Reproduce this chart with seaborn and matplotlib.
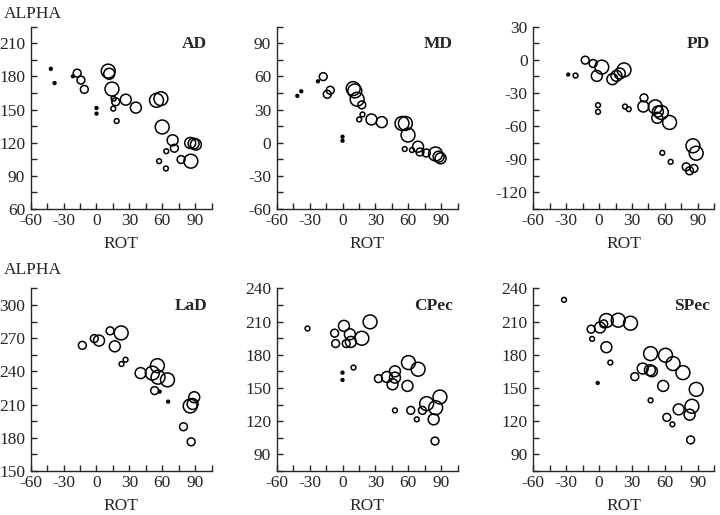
import pandas as pd
import matplotlib
matplotlib.use("Agg")
import matplotlib.pyplot as plt
import seaborn as sns
from matplotlib.ticker import MultipleLocator

# ROT / ALPHA per cell, size class 1 (dot) .. 5 (large circle)
AD_ROT = [-41.6, -38.2, -21.5, -17.6, -14.2, -11.1, 0, 0, 10.7, 11.6, 14.1, 15.6, 17.5, 15.3, 18.4,
          26.7, 35.9, 54.7, 58.7, 59.9, 69.4, 71, 63.6, 57.1, 63.3, 77.1, 86, 85.4, 88.5, 90.6]
AD_ALPHA = [186.8, 173.9, 180, 182.9, 176.6, 168.2, 151.4, 146.3, 184.7, 182.3, 168.5, 159.8, 157, 150.8, 139.6,
            158.9, 151.7, 158.3, 159.8, 134.2, 122.2, 115, 112.3, 103.3, 96.7, 104.8, 103.3, 119.8, 119.2, 118.3]
AD_SIZE = [1, 1, 1, 3, 3, 3, 1, 1, 5, 4, 5, 2, 3, 2, 2, 4, 4, 5, 5, 5, 4, 3, 2, 2, 2, 3, 5, 4, 4, 4]

MD_ROT = [-41.2, -37.6, -22.4, -17.6, -11.2, -13.9, 0, 0, 9.7, 11.2, 13.3, 17.6, 15.2, 18.2, 26.4,
          35.8, 54.2, 57.3, 59.7, 56.7, 63.3, 68.8, 70.6, 76.4, 84.8, 87.6, 89.4]
MD_ALPHA = [42.3, 46.5, 55.5, 59.7, 47.4, 43.8, 5.4, 1.8, 48.9, 46.8, 39.3, 34.2, 21, 25.5, 21,
            18.6, 17.4, 17.4, 6.9, -5.7, -6.6, -3.6, -8.4, -9.3, -10.2, -12.6, -14.1]
MD_SIZE = [1, 1, 1, 3, 3, 3, 1, 1, 5, 5, 5, 3, 2, 2, 4, 4, 5, 5, 5, 2, 2, 4, 3, 3, 5, 4, 4]

PD_ROT = [-28.2, -21.5, -12.7, -5.5, -2.1, 2.4, -1, -1, 12.1, 15.8, 18.8, 22.7, 23.6, 27, 40.9,
          40.3, 51.2, 53.6, 56.7, 53, 64.2, 57.6, 65.2, 85.5, 88.5, 79.4, 82.4, 86.4]
PD_ALPHA = [-13.4, -14.3, -0.4, -3.4, -14.6, -6.7, -41.1, -47.1, -17.6, -14.6, -12.5, -9.2, -42.3, -44.7, -34.5,
            -42.3, -42.6, -46.8, -47.7, -52.5, -56.7, -84.2, -92.3, -77.8, -84.5, -96.8, -100.4, -98.3]
PD_SIZE = [1, 2, 3, 3, 4, 5, 2, 2, 4, 4, 4, 5, 2, 2, 3, 4, 5, 4, 5, 4, 5, 2, 2, 5, 5, 3, 3, 3]

LAD_ROT = [-12.9, -2, 2.3, 12.4, 22.5, 16.7, 22.8, 26.5, 40.2, 50.9, 55.5, 56.1, 64.7, 53, 57.6,
           65.3, 89.1, 85.4, 87.6, 79.3, 86.3]
LAD_ALPHA = [263.6, 269.7, 267.9, 276.7, 274.8, 262.7, 246.7, 250.6, 238.5, 238.5, 245.2, 234.8, 232.4, 222.7, 221.8,
             212.7, 216.7, 208.8, 210.6, 190, 176.4]
LAD_SIZE = [3, 3, 4, 3, 5, 4, 2, 2, 4, 5, 5, 5, 5, 3, 1, 1, 4, 5, 4, 3, 3]

CPEC_ROT = [-31.9, -7.2, -6.3, 1.3, 6.7, 3.4, 7.6, 17.6, 25.1, 0, 0, 10, 32.7, 40.5, 47.8,
            47.8, 45.6, 47.8, 59.2, 60.1, 68.9, 62.2, 67.7, 72.8, 76.7, 84.9, 88.8, 83.1, 84.3]
CPEC_ALPHA = [203.8, 199.6, 190.2, 206.2, 198.6, 190.2, 191.7, 195, 209.8, 163.9, 157.3, 168.5, 158.5, 160, 165.1,
              159.4, 153.4, 129.8, 151.9, 173, 167, 129.8, 121.7, 129.8, 135.9, 132.2, 141.9, 121.7, 102.1]
CPEC_SIZE = [2, 3, 3, 4, 4, 3, 4, 5, 5, 1, 1, 2, 3, 4, 4, 4, 4, 2, 4, 5, 5, 3, 2, 3, 5, 5, 5, 4, 3]

SPEC_ROT = [-32, -7.3, -6.4, -1.3, 0.8, 4.2, 6.6, 17.4, 28.6, 6.6, 10.2, 32.5, 39.7, 46.3, 48.1,
            46.9, 46.9, 60.5, 58.4, 67.4, 76.4, 88.5, 84.6, 82.5, 72.5, 61.7, 66.8, 83.4]
SPEC_ALPHA = [229.7, 203.2, 194.4, 154.6, 204.7, 208, 211, 211.3, 208.6, 186.9, 173, 160.3, 167.6, 166.1, 165.2,
              181.1, 138.9, 179.6, 151.9, 172.1, 163.9, 148.8, 133.5, 125.9, 130.7, 123.5, 117.2, 103.1]
SPEC_SIZE = [2, 3, 2, 1, 4, 3, 5, 5, 5, 4, 2, 3, 4, 4, 4, 5, 2, 5, 4, 5, 5, 5, 5, 4, 4, 3, 2, 3]

PANELS = [
    ("AD", AD_ROT, AD_ALPHA, AD_SIZE, (60, 225)),
    ("MD", MD_ROT, MD_ALPHA, MD_SIZE, (-60, 105)),
    ("PD", PD_ROT, PD_ALPHA, PD_SIZE, (-135, 30)),
    ("LaD", LAD_ROT, LAD_ALPHA, LAD_SIZE, (150, 315)),
    ("CPec", CPEC_ROT, CPEC_ALPHA, CPEC_SIZE, (75, 240)),
    ("SPec", SPEC_ROT, SPEC_ALPHA, SPEC_SIZE, (75, 240)),
]

SIZES = {1: 4, 2: 12, 3: 32, 4: 62, 5: 100}

sns.set_style("ticks")
plt.rcParams["font.family"] = ["Liberation Serif", "DejaVu Serif"]
plt.rcParams["axes.unicode_minus"] = False

fig = plt.figure(figsize=(7.2, 5.15), dpi=100)
lefts = [0.0426, 0.3843, 0.7407]
bottoms = [0.594, 0.0854]
FS = 12.5

for i, (name, rot, alpha, size, ylim) in enumerate(PANELS):
    row, col = divmod(i, 3)
    ax = fig.add_axes([lefts[col], bottoms[row], 0.2514, 0.3545])
    df = pd.DataFrame({"ROT": rot, "ALPHA": alpha, "size": size})
    sns.scatterplot(data=df, x="ROT", y="ALPHA", size="size", sizes=SIZES,
                    legend=False, ax=ax, linewidth=1.1, clip_on=False)
    # open circles, the smallest class drawn as solid dots
    faces = ["black" if s == 1 else "none" for s in size]
    for coll in ax.collections:
        coll.set_facecolor(faces)
        coll.set_edgecolor("black")
    ax.set_xlim(-60, 105)
    ax.set_ylim(*ylim)
    ax.xaxis.set_major_locator(MultipleLocator(30))
    ax.xaxis.set_minor_locator(MultipleLocator(15))
    ax.yaxis.set_major_locator(MultipleLocator(30))
    ax.yaxis.set_minor_locator(MultipleLocator(15))
    ax.tick_params(which="both", direction="in", length=4, width=1.0, labelsize=FS)
    ax.tick_params(axis="x", pad=3)
    ax.tick_params(axis="y", pad=4)
    sns.despine(ax=ax)
    for sp in ["left", "bottom"]:
        ax.spines[sp].set_linewidth(1.0)
    ax.set_xlabel("ROT", fontsize=FS, labelpad=5)
    ax.set_ylabel("")
    ax.text(0.975, 0.905, name, transform=ax.transAxes, ha="right", va="center",
            fontsize=FS, fontweight="bold")

fig.text(0.005, 0.973, "ALPHA", ha="left", va="center", fontsize=FS)
fig.text(0.005, 0.476, "ALPHA", ha="left", va="center", fontsize=FS)

fig.savefig("out.png", dpi=100)
